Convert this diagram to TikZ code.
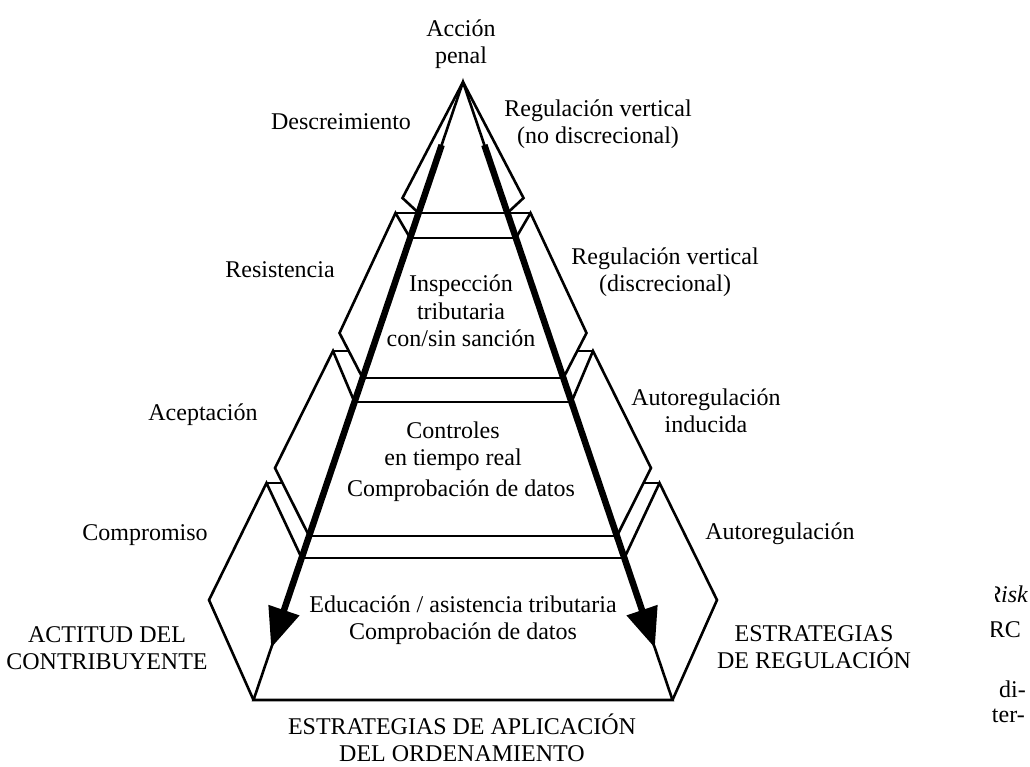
\documentclass[tikz,border=0pt]{standalone}
\usepackage{fontspec}
\setmainfont{Liberation Serif}
\usetikzlibrary{arrows.meta}
\begin{document}
\begin{tikzpicture}[x=1pt,y=-1pt,
  edge/.style={line width=2.6pt, line join=miter, line cap=butt},
  flow/.style={line width=6.5pt, -{Triangle[length=40pt,width=31pt]}},
  lbl/.style={font=\fontsize{24}{27.5}\selectfont, align=center, inner sep=0pt},
]
\useasboundingbox (0,0) rectangle (1030,766);

% main pyramid
\coordinate (apex) at (463,82);
\coordinate (bl) at (253.5,700);
\coordinate (br) at (672.5,700);

% points on the two main edges
\coordinate (eL145) at (441.64,145);  \coordinate (eR145) at (484.36,145);
\coordinate (eL213) at (418.59,213);  \coordinate (eR213) at (507.41,213);
\coordinate (eL238) at (410.12,238);  \coordinate (eR238) at (515.88,238);
\coordinate (eL378) at (362.66,378);  \coordinate (eR378) at (563.34,378);
\coordinate (eL402) at (354.52,402);  \coordinate (eR402) at (571.48,402);
\coordinate (eL536) at (309.09,536);  \coordinate (eR536) at (616.91,536);
\coordinate (eL558) at (301.64,558);  \coordinate (eR558) at (624.36,558);
\coordinate (eL648) at (271.13,648);  \coordinate (eR648) at (654.87,648);

% side flaps: outer points and corners
\coordinate (oL1) at (402.5,198);  \coordinate (oR1) at (523.5,198);
\coordinate (cL2) at (395.5,213);  \coordinate (cR2) at (530.5,213);
\coordinate (oL2) at (339.5,333);  \coordinate (oR2) at (586.5,333);
\coordinate (cL3) at (333,351);    \coordinate (cR3) at (593,351);
\coordinate (sL3) at (348.76,351); \coordinate (sR3) at (577.24,351);
\coordinate (oL3) at (275,468);    \coordinate (oR3) at (651,468);
\coordinate (cL4) at (266.5,483);  \coordinate (cR4) at (659.5,483);
\coordinate (sL4) at (282.52,483); \coordinate (sR4) at (643.48,483);
\coordinate (oL4) at (209,600);    \coordinate (oR4) at (717,600);

% pyramid outline
\draw[edge] (bl) -- (apex) -- (br) -- cycle;

% tier boundaries
\draw[edge] (cL2) -- (cR2);
\draw[edge] (eL238) -- (eR238);
\draw[edge] (eL378) -- (eR378);
\draw[edge] (eL402) -- (eR402);
\draw[edge] (eL536) -- (eR536);
\draw[edge] (eL558) -- (eR558);

% left flaps
\draw[edge] (apex) -- (oL1) -- (eL213);
\draw[edge] (eL238) -- (cL2) -- (oL2) -- (eL378);
\draw[edge] (eL402) -- (cL3) -- (oL3) -- (eL536);
\draw[edge] (cL3) -- (sL3);
\draw[edge] (eL558) -- (cL4) -- (oL4) -- (bl);
\draw[edge] (cL4) -- (sL4);

% right flaps
\draw[edge] (apex) -- (oR1) -- (eR213);
\draw[edge] (eR238) -- (cR2) -- (oR2) -- (eR378);
\draw[edge] (eR402) -- (cR3) -- (oR3) -- (eR536);
\draw[edge] (cR3) -- (sR3);
\draw[edge] (eR558) -- (cR4) -- (oR4) -- (br);
\draw[edge] (cR4) -- (sR4);

% thick arrows along the edges
\draw[flow] (eL145) -- (eL648);
\draw[flow] (eR145) -- (eR648);

% labels
\node[lbl] (accion) at (461,44) {Acción\\penal};
\node[lbl] (descr) at (341,122) {Descreimiento};
\node[lbl] (regv1) at (598,124) {Regulación vertical\\(no discrecional)};
\node[lbl] (resist) at (280,270) {Resistencia};
\node[lbl] (insp) at (461,311) {Inspección\\tributaria\\con/sin sanción};
\node[lbl] (regv2) at (665,272) {Regulación vertical\\(discrecional)};
\node[lbl] (acept) at (203,415) {Aceptación};
\node[lbl] (ctrl) at (453,446) {Controles\\en tiempo real};
\node[lbl] (ctrldat) at (461,491) {Comprobación de datos};
\node[lbl] (autoind) at (706,411) {Autoregulación\\inducida};
\node[lbl] (compr) at (145,535) {Compromiso};
\node[lbl] (autoreg) at (780,534) {Autoregulación};
\node[lbl] (educ) at (463,620) {Educación / asistencia tributaria\\Comprobación de datos};
\node[lbl] (actitud) at (107,648) {ACTITUD DEL\\CONTRIBUYENTE};
\node[lbl] (estreg) at (814,647) {ESTRATEGIAS\\DE REGULACIÓN};
\node[lbl] (estapl) at (462,738) {ESTRATEGIAS DE APLICACIÓN\\DEL ORDENAMIENTO};

% text running in from the neighbouring column
\begin{scope}
  \clip (995,0) rectangle (1030,766);
  \node[lbl, anchor=east] (fr1) at (1028,594) {\itshape Risk};
\end{scope}
\begin{scope}
  \clip (991,0) rectangle (1030,766);
  \node[lbl, anchor=east] (fr2) at (1021,630) {RC};
  \node[lbl, anchor=east] (fr3) at (1026,689) {di-};
  \node[lbl, anchor=east] (fr4) at (1025,716) {ter-};
\end{scope}
\end{tikzpicture}
\end{document}
